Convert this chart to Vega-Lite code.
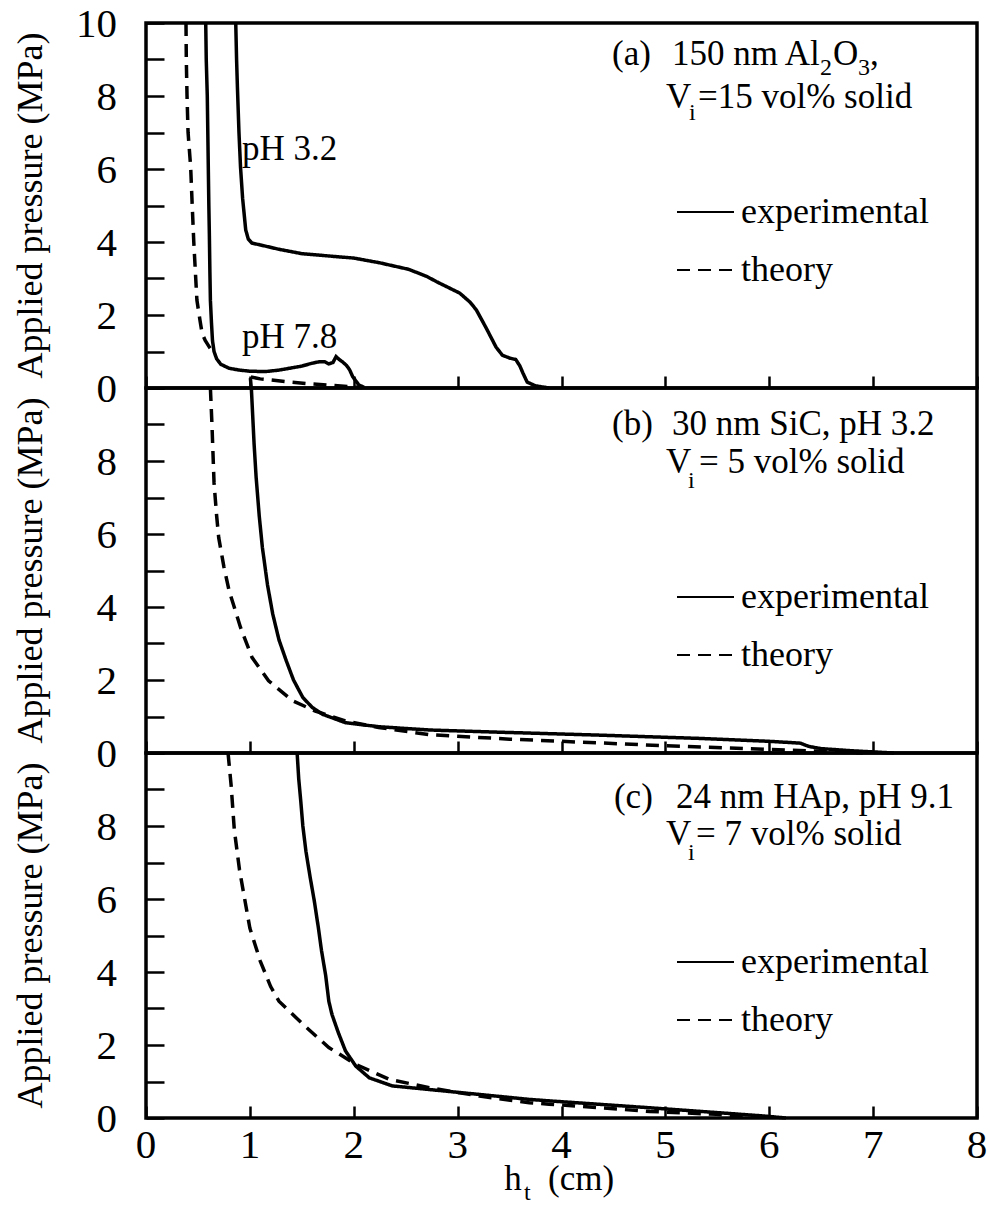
{
  "$schema": "https://vega.github.io/schema/vega-lite/v6.json",
  "background": "white",
  "padding": {"left": 11, "top": 1, "right": 5, "bottom": 5},
  "spacing": 0,
  "bounds": "flush",
  "config": {
    "view": {"stroke": "black", "strokeWidth": 3.5},
    "axis": {"domain": false, "grid": false, "tickColor": "black", "tickWidth": 2.5, "labels": false, "title": null},
    "axisX": {"tickSize": -12},
    "axisY": {"tickSize": -18},
    "text": {"font": "Liberation Serif", "color": "black", "baseline": "alphabetic"},
    "legend": {
      "orient": "none",
      "title": null,
      "symbolType": "stroke",
      "symbolSize": 3249,
      "symbolStrokeWidth": 2,
      "symbolStrokeColor": "black",
      "labelFont": "Liberation Serif",
      "labelFontSize": 36,
      "labelColor": "black",
      "labelLimit": 400,
      "labelOffset": 6,
      "clipHeight": 36,
      "rowPadding": 22
    }
  },
  "datasets": {
    "curves_a": [
      {"series": "pH 3.2", "kind": "experimental", "h": 0.864, "p": 10},
      {"series": "pH 3.2", "kind": "experimental", "h": 0.872, "p": 9},
      {"series": "pH 3.2", "kind": "experimental", "h": 0.88, "p": 8.25},
      {"series": "pH 3.2", "kind": "experimental", "h": 0.895, "p": 7},
      {"series": "pH 3.2", "kind": "experimental", "h": 0.91, "p": 6.05},
      {"series": "pH 3.2", "kind": "experimental", "h": 0.93, "p": 5.2},
      {"series": "pH 3.2", "kind": "experimental", "h": 0.96, "p": 4.33},
      {"series": "pH 3.2", "kind": "experimental", "h": 0.985, "p": 4.08},
      {"series": "pH 3.2", "kind": "experimental", "h": 1.02, "p": 3.97},
      {"series": "pH 3.2", "kind": "experimental", "h": 1.1, "p": 3.92},
      {"series": "pH 3.2", "kind": "experimental", "h": 1.28, "p": 3.8},
      {"series": "pH 3.2", "kind": "experimental", "h": 1.5, "p": 3.68},
      {"series": "pH 3.2", "kind": "experimental", "h": 1.83, "p": 3.6},
      {"series": "pH 3.2", "kind": "experimental", "h": 2.0, "p": 3.56},
      {"series": "pH 3.2", "kind": "experimental", "h": 2.25, "p": 3.43},
      {"series": "pH 3.2", "kind": "experimental", "h": 2.53, "p": 3.25},
      {"series": "pH 3.2", "kind": "experimental", "h": 2.7, "p": 3.06},
      {"series": "pH 3.2", "kind": "experimental", "h": 2.82, "p": 2.88},
      {"series": "pH 3.2", "kind": "experimental", "h": 3.02, "p": 2.6},
      {"series": "pH 3.2", "kind": "experimental", "h": 3.12, "p": 2.35},
      {"series": "pH 3.2", "kind": "experimental", "h": 3.18, "p": 2.14},
      {"series": "pH 3.2", "kind": "experimental", "h": 3.27, "p": 1.67},
      {"series": "pH 3.2", "kind": "experimental", "h": 3.37, "p": 1.12},
      {"series": "pH 3.2", "kind": "experimental", "h": 3.43, "p": 0.9},
      {"series": "pH 3.2", "kind": "experimental", "h": 3.5, "p": 0.82},
      {"series": "pH 3.2", "kind": "experimental", "h": 3.56, "p": 0.78},
      {"series": "pH 3.2", "kind": "experimental", "h": 3.6, "p": 0.6},
      {"series": "pH 3.2", "kind": "experimental", "h": 3.63, "p": 0.4},
      {"series": "pH 3.2", "kind": "experimental", "h": 3.67, "p": 0.16},
      {"series": "pH 3.2", "kind": "experimental", "h": 3.75, "p": 0.06},
      {"series": "pH 3.2", "kind": "experimental", "h": 3.88, "p": 0.0},
      {"series": "pH 7.8", "kind": "experimental", "h": 0.575, "p": 10},
      {"series": "pH 7.8", "kind": "experimental", "h": 0.58, "p": 9},
      {"series": "pH 7.8", "kind": "experimental", "h": 0.59, "p": 8},
      {"series": "pH 7.8", "kind": "experimental", "h": 0.595, "p": 7},
      {"series": "pH 7.8", "kind": "experimental", "h": 0.6, "p": 6},
      {"series": "pH 7.8", "kind": "experimental", "h": 0.605, "p": 5},
      {"series": "pH 7.8", "kind": "experimental", "h": 0.61, "p": 4.2},
      {"series": "pH 7.8", "kind": "experimental", "h": 0.615, "p": 3.2},
      {"series": "pH 7.8", "kind": "experimental", "h": 0.62, "p": 2.4},
      {"series": "pH 7.8", "kind": "experimental", "h": 0.63, "p": 1.8},
      {"series": "pH 7.8", "kind": "experimental", "h": 0.64, "p": 1.3},
      {"series": "pH 7.8", "kind": "experimental", "h": 0.655, "p": 1.0},
      {"series": "pH 7.8", "kind": "experimental", "h": 0.68, "p": 0.8},
      {"series": "pH 7.8", "kind": "experimental", "h": 0.72, "p": 0.65},
      {"series": "pH 7.8", "kind": "experimental", "h": 0.8, "p": 0.54},
      {"series": "pH 7.8", "kind": "experimental", "h": 0.9, "p": 0.49},
      {"series": "pH 7.8", "kind": "experimental", "h": 1.0, "p": 0.46},
      {"series": "pH 7.8", "kind": "experimental", "h": 1.15, "p": 0.45},
      {"series": "pH 7.8", "kind": "experimental", "h": 1.28, "p": 0.49},
      {"series": "pH 7.8", "kind": "experimental", "h": 1.38, "p": 0.54},
      {"series": "pH 7.8", "kind": "experimental", "h": 1.5, "p": 0.6},
      {"series": "pH 7.8", "kind": "experimental", "h": 1.6, "p": 0.68},
      {"series": "pH 7.8", "kind": "experimental", "h": 1.67, "p": 0.72},
      {"series": "pH 7.8", "kind": "experimental", "h": 1.72, "p": 0.72},
      {"series": "pH 7.8", "kind": "experimental", "h": 1.76, "p": 0.66},
      {"series": "pH 7.8", "kind": "experimental", "h": 1.8, "p": 0.7},
      {"series": "pH 7.8", "kind": "experimental", "h": 1.83, "p": 0.86},
      {"series": "pH 7.8", "kind": "experimental", "h": 1.86, "p": 0.78},
      {"series": "pH 7.8", "kind": "experimental", "h": 1.89, "p": 0.72},
      {"series": "pH 7.8", "kind": "experimental", "h": 1.93, "p": 0.62},
      {"series": "pH 7.8", "kind": "experimental", "h": 1.96, "p": 0.5},
      {"series": "pH 7.8", "kind": "experimental", "h": 1.99, "p": 0.31},
      {"series": "pH 7.8", "kind": "experimental", "h": 2.05, "p": 0.08},
      {"series": "pH 7.8", "kind": "experimental", "h": 2.1, "p": 0.02},
      {"series": "theory upper", "kind": "theory", "h": 0.385, "p": 10},
      {"series": "theory upper", "kind": "theory", "h": 0.388, "p": 9},
      {"series": "theory upper", "kind": "theory", "h": 0.395, "p": 8},
      {"series": "theory upper", "kind": "theory", "h": 0.405, "p": 7},
      {"series": "theory upper", "kind": "theory", "h": 0.43, "p": 6.05},
      {"series": "theory upper", "kind": "theory", "h": 0.445, "p": 5},
      {"series": "theory upper", "kind": "theory", "h": 0.46, "p": 4},
      {"series": "theory upper", "kind": "theory", "h": 0.475, "p": 3.2},
      {"series": "theory upper", "kind": "theory", "h": 0.49, "p": 2.41},
      {"series": "theory upper", "kind": "theory", "h": 0.52, "p": 1.85},
      {"series": "theory upper", "kind": "theory", "h": 0.54, "p": 1.5},
      {"series": "theory upper", "kind": "theory", "h": 0.57, "p": 1.3},
      {"series": "theory upper", "kind": "theory", "h": 0.61, "p": 1.12},
      {"series": "theory upper", "kind": "theory", "h": 0.64, "p": 1.0},
      {"series": "theory lower", "kind": "theory", "h": 1.01, "p": 0.3},
      {"series": "theory lower", "kind": "theory", "h": 1.1, "p": 0.25},
      {"series": "theory lower", "kind": "theory", "h": 1.2, "p": 0.22},
      {"series": "theory lower", "kind": "theory", "h": 1.4, "p": 0.16},
      {"series": "theory lower", "kind": "theory", "h": 1.6, "p": 0.11},
      {"series": "theory lower", "kind": "theory", "h": 1.8, "p": 0.07},
      {"series": "theory lower", "kind": "theory", "h": 2.0, "p": 0.03},
      {"series": "theory lower", "kind": "theory", "h": 2.08, "p": 0.01}
    ],
    "curves_b": [
      {"series": "SiC", "kind": "experimental", "h": 1.005, "p": 10.27},
      {"series": "SiC", "kind": "experimental", "h": 1.015, "p": 9.95},
      {"series": "SiC", "kind": "experimental", "h": 1.04, "p": 8.5},
      {"series": "SiC", "kind": "experimental", "h": 1.06, "p": 7.56},
      {"series": "SiC", "kind": "experimental", "h": 1.09, "p": 6.5},
      {"series": "SiC", "kind": "experimental", "h": 1.12, "p": 5.64},
      {"series": "SiC", "kind": "experimental", "h": 1.17, "p": 4.6},
      {"series": "SiC", "kind": "experimental", "h": 1.22, "p": 3.81},
      {"series": "SiC", "kind": "experimental", "h": 1.28, "p": 3.1},
      {"series": "SiC", "kind": "experimental", "h": 1.35, "p": 2.53},
      {"series": "SiC", "kind": "experimental", "h": 1.42, "p": 2.0},
      {"series": "SiC", "kind": "experimental", "h": 1.51, "p": 1.52},
      {"series": "SiC", "kind": "experimental", "h": 1.6, "p": 1.25},
      {"series": "SiC", "kind": "experimental", "h": 1.7, "p": 1.06},
      {"series": "SiC", "kind": "experimental", "h": 1.92, "p": 0.83},
      {"series": "SiC", "kind": "experimental", "h": 2.24, "p": 0.72},
      {"series": "SiC", "kind": "experimental", "h": 2.73, "p": 0.63},
      {"series": "SiC", "kind": "experimental", "h": 3.4, "p": 0.57},
      {"series": "SiC", "kind": "experimental", "h": 4.36, "p": 0.49},
      {"series": "SiC", "kind": "experimental", "h": 5.33, "p": 0.4},
      {"series": "SiC", "kind": "experimental", "h": 6.0, "p": 0.32},
      {"series": "SiC", "kind": "experimental", "h": 6.3, "p": 0.27},
      {"series": "SiC", "kind": "experimental", "h": 6.38, "p": 0.18},
      {"series": "SiC", "kind": "experimental", "h": 6.5, "p": 0.12},
      {"series": "SiC", "kind": "experimental", "h": 6.8, "p": 0.06},
      {"series": "SiC", "kind": "experimental", "h": 7.2, "p": 0.0},
      {"series": "SiC theory", "kind": "theory", "h": 0.62, "p": 10},
      {"series": "SiC theory", "kind": "theory", "h": 0.635, "p": 9},
      {"series": "SiC theory", "kind": "theory", "h": 0.655, "p": 7.4},
      {"series": "SiC theory", "kind": "theory", "h": 0.68, "p": 6.5},
      {"series": "SiC theory", "kind": "theory", "h": 0.7, "p": 5.9},
      {"series": "SiC theory", "kind": "theory", "h": 0.75, "p": 5.1},
      {"series": "SiC theory", "kind": "theory", "h": 0.8, "p": 4.45},
      {"series": "SiC theory", "kind": "theory", "h": 0.91, "p": 3.44},
      {"series": "SiC theory", "kind": "theory", "h": 1.02, "p": 2.62},
      {"series": "SiC theory", "kind": "theory", "h": 1.18, "p": 1.98},
      {"series": "SiC theory", "kind": "theory", "h": 1.41, "p": 1.43},
      {"series": "SiC theory", "kind": "theory", "h": 1.63, "p": 1.15},
      {"series": "SiC theory", "kind": "theory", "h": 1.92, "p": 0.88},
      {"series": "SiC theory", "kind": "theory", "h": 2.24, "p": 0.7},
      {"series": "SiC theory", "kind": "theory", "h": 2.73, "p": 0.5},
      {"series": "SiC theory", "kind": "theory", "h": 3.5, "p": 0.38},
      {"series": "SiC theory", "kind": "theory", "h": 4.0, "p": 0.32},
      {"series": "SiC theory", "kind": "theory", "h": 5.0, "p": 0.2},
      {"series": "SiC theory", "kind": "theory", "h": 6.0, "p": 0.1},
      {"series": "SiC theory", "kind": "theory", "h": 6.5, "p": 0.05},
      {"series": "SiC theory", "kind": "theory", "h": 6.9, "p": 0.0}
    ],
    "curves_c": [
      {"series": "HAp", "kind": "experimental", "h": 1.455, "p": 10},
      {"series": "HAp", "kind": "experimental", "h": 1.47, "p": 9.3},
      {"series": "HAp", "kind": "experimental", "h": 1.49, "p": 8.68},
      {"series": "HAp", "kind": "experimental", "h": 1.51, "p": 8.0},
      {"series": "HAp", "kind": "experimental", "h": 1.54, "p": 7.3},
      {"series": "HAp", "kind": "experimental", "h": 1.58, "p": 6.6},
      {"series": "HAp", "kind": "experimental", "h": 1.62, "p": 5.95},
      {"series": "HAp", "kind": "experimental", "h": 1.66, "p": 5.2},
      {"series": "HAp", "kind": "experimental", "h": 1.69, "p": 4.58},
      {"series": "HAp", "kind": "experimental", "h": 1.73, "p": 3.9},
      {"series": "HAp", "kind": "experimental", "h": 1.76, "p": 3.2},
      {"series": "HAp", "kind": "experimental", "h": 1.79, "p": 2.84},
      {"series": "HAp", "kind": "experimental", "h": 1.85, "p": 2.35},
      {"series": "HAp", "kind": "experimental", "h": 1.92, "p": 1.84},
      {"series": "HAp", "kind": "experimental", "h": 2.02, "p": 1.42},
      {"series": "HAp", "kind": "experimental", "h": 2.15, "p": 1.1},
      {"series": "HAp", "kind": "experimental", "h": 2.37, "p": 0.88},
      {"series": "HAp", "kind": "experimental", "h": 3.05, "p": 0.69},
      {"series": "HAp", "kind": "experimental", "h": 3.69, "p": 0.51},
      {"series": "HAp", "kind": "experimental", "h": 3.88, "p": 0.47},
      {"series": "HAp", "kind": "experimental", "h": 4.85, "p": 0.28},
      {"series": "HAp", "kind": "experimental", "h": 5.49, "p": 0.15},
      {"series": "HAp", "kind": "experimental", "h": 5.97, "p": 0.05},
      {"series": "HAp", "kind": "experimental", "h": 6.16, "p": 0.0},
      {"series": "HAp theory", "kind": "theory", "h": 0.79, "p": 10},
      {"series": "HAp theory", "kind": "theory", "h": 0.82, "p": 9.1},
      {"series": "HAp theory", "kind": "theory", "h": 0.85, "p": 7.9},
      {"series": "HAp theory", "kind": "theory", "h": 0.9, "p": 6.8},
      {"series": "HAp theory", "kind": "theory", "h": 1.0, "p": 5.2},
      {"series": "HAp theory", "kind": "theory", "h": 1.1, "p": 4.3},
      {"series": "HAp theory", "kind": "theory", "h": 1.2, "p": 3.6},
      {"series": "HAp theory", "kind": "theory", "h": 1.28, "p": 3.2},
      {"series": "HAp theory", "kind": "theory", "h": 1.51, "p": 2.57},
      {"series": "HAp theory", "kind": "theory", "h": 1.76, "p": 1.93},
      {"series": "HAp theory", "kind": "theory", "h": 2.02, "p": 1.47},
      {"series": "HAp theory", "kind": "theory", "h": 2.34, "p": 1.06},
      {"series": "HAp theory", "kind": "theory", "h": 2.73, "p": 0.83},
      {"series": "HAp theory", "kind": "theory", "h": 3.21, "p": 0.6},
      {"series": "HAp theory", "kind": "theory", "h": 3.69, "p": 0.42},
      {"series": "HAp theory", "kind": "theory", "h": 3.88, "p": 0.38},
      {"series": "HAp theory", "kind": "theory", "h": 4.85, "p": 0.18},
      {"series": "HAp theory", "kind": "theory", "h": 5.49, "p": 0.1},
      {"series": "HAp theory", "kind": "theory", "h": 5.87, "p": 0.03}
    ],
    "notes_a": [
      {"t": "(a)", "role": "main", "h": 4.486, "p": 8.85},
      {"t": "150 nm Al", "role": "main", "h": 5.064, "p": 8.85},
      {"t": "2", "role": "sub", "h": 6.489, "p": 8.575},
      {"t": "O", "role": "main", "h": 6.614, "p": 8.85},
      {"t": "3", "role": "sub", "h": 6.855, "p": 8.575},
      {"t": ",", "role": "main", "h": 6.97, "p": 8.85},
      {"t": "V", "role": "main", "h": 5.006, "p": 7.671},
      {"t": "i", "role": "sub", "h": 5.227, "p": 7.342},
      {"t": "=15 vol% solid", "role": "main", "h": 5.314, "p": 7.671},
      {"t": "pH 3.2", "role": "main", "h": 0.924, "p": 6.247},
      {"t": "pH 7.8", "role": "main", "h": 0.924, "p": 1.096}
    ],
    "notes_b": [
      {"t": "(b)", "role": "main", "h": 4.486, "p": 8.712},
      {"t": "30 nm SiC, pH 3.2", "role": "main", "h": 5.064, "p": 8.712},
      {"t": "V", "role": "main", "h": 5.006, "p": 7.671},
      {"t": "i", "role": "sub", "h": 5.218, "p": 7.26},
      {"t": "= 5 vol% solid", "role": "main", "h": 5.324, "p": 7.671}
    ],
    "notes_c": [
      {"t": "(c)", "role": "main", "h": 4.505, "p": 8.493},
      {"t": "24 nm HAp, pH 9.1", "role": "main", "h": 5.102, "p": 8.493},
      {"t": "V", "role": "main", "h": 5.006, "p": 7.479},
      {"t": "i", "role": "sub", "h": 5.218, "p": 7.068},
      {"t": "= 7 vol% solid", "role": "main", "h": 5.295, "p": 7.479},
      {"t": "h", "role": "main", "h": 3.45, "p": -1.97},
      {"t": "t", "role": "sub", "h": 3.64, "p": -2.25},
      {"t": "(cm)", "role": "main", "h": 3.87, "p": -1.97}
    ],
    "ylabels_top": [
      {"t": "0", "h": 0, "p": 0}, {"t": "2", "h": 0, "p": 2}, {"t": "4", "h": 0, "p": 4},
      {"t": "6", "h": 0, "p": 6}, {"t": "8", "h": 0, "p": 8}, {"t": "10", "h": 0, "p": 10}
    ],
    "ylabels": [
      {"t": "0", "h": 0, "p": 0}, {"t": "2", "h": 0, "p": 2}, {"t": "4", "h": 0, "p": 4},
      {"t": "6", "h": 0, "p": 6}, {"t": "8", "h": 0, "p": 8}
    ],
    "xlabels": [
      {"t": "0", "h": 0, "p": 0}, {"t": "1", "h": 1, "p": 0}, {"t": "2", "h": 2, "p": 0},
      {"t": "3", "h": 3, "p": 0}, {"t": "4", "h": 4, "p": 0}, {"t": "5", "h": 5, "p": 0},
      {"t": "6", "h": 6, "p": 0}, {"t": "7", "h": 7, "p": 0}, {"t": "8", "h": 8, "p": 0}
    ],
    "ytitle": [
      {"t": "Applied pressure (MPa)", "h": -1.0, "p": 5}
    ]
  },
  "resolve": {"legend": {"strokeDash": "independent"}},
  "vconcat": [
    {
      "width": 831,
      "height": 365,
      "encoding": {
        "x": {"field": "h", "type": "quantitative", "scale": {"domain": [0, 8], "nice": false, "zero": false},
              "axis": {"values": [0, 1, 2, 3, 4, 5, 6, 7, 8]}},
        "y": {"field": "p", "type": "quantitative", "scale": {"domain": [0, 10], "nice": false},
              "axis": {"values": [0, 1, 2, 3, 4, 5, 6, 7, 8, 9, 10]}}
      },
      "layer": [
        {
          "data": {"name": "curves_a"},
          "mark": {"type": "line", "color": "black", "strokeWidth": 3.5},
          "encoding": {
            "detail": {"field": "series", "type": "nominal"},
            "strokeDash": {"field": "kind", "type": "nominal",
              "scale": {"domain": ["experimental", "theory"], "range": [[1, 0], [13, 8]]},
              "legend": {"legendX": 530, "legendY": 171,
                "encode": {"symbols": {"update": {"strokeDash": {"signal": "datum.value === 'theory' ? [7, 5] : [1, 0]"}}}}}}
          }
        },
        {
          "data": {"name": "notes_a"},
          "transform": [{"filter": "datum.role === 'main'"}],
          "mark": {"type": "text", "fontSize": 35, "align": "left"},
          "encoding": {"text": {"field": "t"}}
        },
        {
          "data": {"name": "notes_a"},
          "transform": [{"filter": "datum.role === 'sub'"}],
          "mark": {"type": "text", "fontSize": 24, "align": "left"},
          "encoding": {"text": {"field": "t"}}
        },
        {
          "data": {"name": "ylabels_top"},
          "mark": {"type": "text", "fontSize": 41, "align": "right", "dx": -29, "dy": 13.5},
          "encoding": {"text": {"field": "t"}}
        },
        {
          "data": {"name": "ytitle"},
          "mark": {"type": "text", "fontSize": 36, "align": "center", "angle": 270},
          "encoding": {"text": {"field": "t"}}
        }
      ]
    },
    {
      "width": 831,
      "height": 365,
      "encoding": {
        "x": {"field": "h", "type": "quantitative", "scale": {"domain": [0, 8], "nice": false, "zero": false},
              "axis": {"values": [0, 1, 2, 3, 4, 5, 6, 7, 8]}},
        "y": {"field": "p", "type": "quantitative", "scale": {"domain": [0, 10], "nice": false},
              "axis": {"values": [0, 1, 2, 3, 4, 5, 6, 7, 8, 9, 10]}}
      },
      "layer": [
        {
          "data": {"name": "curves_b"},
          "mark": {"type": "line", "color": "black", "strokeWidth": 3.5},
          "encoding": {
            "detail": {"field": "series", "type": "nominal"},
            "strokeDash": {"field": "kind", "type": "nominal",
              "scale": {"domain": ["experimental", "theory"], "range": [[1, 0], [13, 8]]},
              "legend": {"legendX": 530, "legendY": 191,
                "encode": {"symbols": {"update": {"strokeDash": {"signal": "datum.value === 'theory' ? [7, 5] : [1, 0]"}}}}}}
          }
        },
        {
          "data": {"name": "notes_b"},
          "transform": [{"filter": "datum.role === 'main'"}],
          "mark": {"type": "text", "fontSize": 35, "align": "left"},
          "encoding": {"text": {"field": "t"}}
        },
        {
          "data": {"name": "notes_b"},
          "transform": [{"filter": "datum.role === 'sub'"}],
          "mark": {"type": "text", "fontSize": 24, "align": "left"},
          "encoding": {"text": {"field": "t"}}
        },
        {
          "data": {"name": "ylabels"},
          "mark": {"type": "text", "fontSize": 41, "align": "right", "dx": -29, "dy": 13.5},
          "encoding": {"text": {"field": "t"}}
        },
        {
          "data": {"name": "ytitle"},
          "mark": {"type": "text", "fontSize": 36, "align": "center", "angle": 270},
          "encoding": {"text": {"field": "t"}}
        }
      ]
    },
    {
      "width": 831,
      "height": 365,
      "encoding": {
        "x": {"field": "h", "type": "quantitative", "scale": {"domain": [0, 8], "nice": false, "zero": false},
              "axis": {"values": [0, 1, 2, 3, 4, 5, 6, 7, 8]}},
        "y": {"field": "p", "type": "quantitative", "scale": {"domain": [0, 10], "nice": false},
              "axis": {"values": [0, 1, 2, 3, 4, 5, 6, 7, 8, 9, 10]}}
      },
      "layer": [
        {
          "data": {"name": "curves_c"},
          "mark": {"type": "line", "color": "black", "strokeWidth": 3.5},
          "encoding": {
            "detail": {"field": "series", "type": "nominal"},
            "strokeDash": {"field": "kind", "type": "nominal",
              "scale": {"domain": ["experimental", "theory"], "range": [[1, 0], [13, 8]]},
              "legend": {"legendX": 530, "legendY": 191,
                "encode": {"symbols": {"update": {"strokeDash": {"signal": "datum.value === 'theory' ? [7, 5] : [1, 0]"}}}}}}
          }
        },
        {
          "data": {"name": "notes_c"},
          "transform": [{"filter": "datum.role === 'main'"}],
          "mark": {"type": "text", "fontSize": 35, "align": "left"},
          "encoding": {"text": {"field": "t"}}
        },
        {
          "data": {"name": "notes_c"},
          "transform": [{"filter": "datum.role === 'sub'"}],
          "mark": {"type": "text", "fontSize": 24, "align": "left"},
          "encoding": {"text": {"field": "t"}}
        },
        {
          "data": {"name": "ylabels"},
          "mark": {"type": "text", "fontSize": 41, "align": "right", "dx": -29, "dy": 13.5},
          "encoding": {"text": {"field": "t"}}
        },
        {
          "data": {"name": "xlabels"},
          "mark": {"type": "text", "fontSize": 41, "align": "center", "dy": 40},
          "encoding": {"text": {"field": "t"}}
        },
        {
          "data": {"name": "ytitle"},
          "mark": {"type": "text", "fontSize": 36, "align": "center", "angle": 270},
          "encoding": {"text": {"field": "t"}}
        }
      ]
    }
  ]
}
